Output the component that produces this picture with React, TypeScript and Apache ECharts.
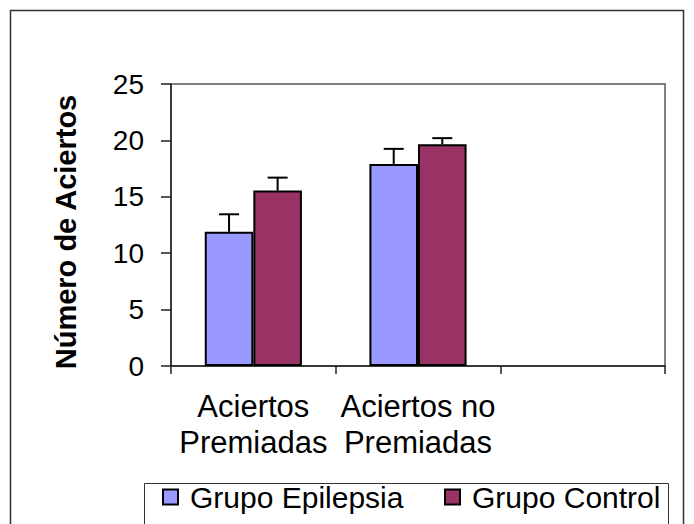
import React, { useEffect, useRef } from "react";
import * as echarts from "echarts";

const categories = ["Aciertos\nPremiadas", "Aciertos no\nPremiadas", ""];
const seriesNames = ["Grupo Epilepsia", "Grupo Control"];
const epilepsia = [11.9, 17.9];
const control = [15.55, 19.65];
const errEpilepsia = [1.55, 1.35];
const errControl = [1.15, 0.55];
const yTicks = { min: 0, max: 25, interval: 5 };
const yAxisTitle = "Número de Aciertos";

const FONT = "'Liberation Sans', Arial, sans-serif";
const BAR_FRACTION = 0.59;

function errorSeries(values: number[], errs: number[], sign: number) {
  return {
    type: "custom",
    z: 5,
    silent: true,
    encode: { x: 0, y: 1 },
    data: values.map((v, i) => [i, v, errs[i]]),
    renderItem: (params: any, api: any) => {
      const idx = api.value(0);
      const v = api.value(1);
      const e = api.value(2);
      const base = api.coord([idx, v]);
      const top = api.coord([idx, v + e]);
      const band = api.size([1, 0])[0];
      const bw = (band * BAR_FRACTION) / 2;
      const x = base[0] + (sign * bw) / 2;
      return {
        type: "group",
        children: [
          {
            type: "line",
            shape: { x1: x, y1: base[1], x2: x, y2: top[1] },
            style: { stroke: "#000", lineWidth: 2 },
          },
          {
            type: "line",
            shape: { x1: x - 10, y1: top[1], x2: x + 10, y2: top[1] },
            style: { stroke: "#000", lineWidth: 2 },
          },
        ],
      };
    },
  };
}

export default function App() {
  const ref = useRef<HTMLDivElement>(null);
  useEffect(() => {
    if (!ref.current) return;
    const chart = echarts.init(ref.current, null, { renderer: "svg" });
    const legendCommon = {
      top: 482,
      padding: 0,
      icon: "rect",
      itemWidth: 15,
      itemHeight: 15,
      textStyle: { fontSize: 30, color: "#000", fontFamily: FONT, padding: [0, 0, 0, 7] },
    };
    chart.setOption({
      animation: false,
      backgroundColor: "#fff",
      textStyle: { fontFamily: FONT },
      graphic: [
        {
          type: "rect",
          silent: true,
          shape: { x: 10.5, y: 10.5, width: 673, height: 540 },
          style: { fill: "none", stroke: "#333", lineWidth: 1.5 },
        },
        {
          type: "rect",
          silent: true,
          shape: { x: 144.5, y: 483.5, width: 524, height: 60 },
          style: { fill: "none", stroke: "#333", lineWidth: 1 },
        },
        {
          type: "text",
          silent: true,
          x: 66,
          y: 232,
          rotation: Math.PI / 2,
          style: {
            text: yAxisTitle,
            align: "center",
            verticalAlign: "middle",
            fontSize: 29,
            fontWeight: "bold",
            fontFamily: FONT,
            fill: "#000",
          },
        },
      ],
      legend: [
        { ...legendCommon, left: 162, data: [seriesNames[0]] },
        { ...legendCommon, left: 444, data: [seriesNames[1]] },
      ],
      grid: {
        left: 171,
        top: 84,
        right: 29,
        bottom: 158,
        show: true,
        borderColor: "#808080",
        borderWidth: 2,
        backgroundColor: "transparent",
      },
      xAxis: {
        type: "category",
        data: categories,
        axisLine: { lineStyle: { color: "#222", width: 1.5 } },
        axisTick: { show: true, length: 8, alignWithLabel: false, lineStyle: { color: "#222", width: 1.5 } },
        axisLabel: {
          interval: 0,
          fontSize: 31,
          lineHeight: 36,
          color: "#000",
          margin: 22,
          fontFamily: FONT,
        },
        splitLine: { show: false },
      },
      yAxis: {
        type: "value",
        min: yTicks.min,
        max: yTicks.max,
        interval: yTicks.interval,
        axisLine: { show: true, lineStyle: { color: "#222", width: 1.5 } },
        axisTick: { show: true, length: 10, lineStyle: { color: "#222", width: 1.5 } },
        axisLabel: { fontSize: 28, color: "#000", margin: 27, fontFamily: FONT },
        splitLine: { show: false },
      },
      series: [
        {
          name: seriesNames[0],
          type: "bar",
          data: epilepsia,
          barGap: "0%",
          barCategoryGap: `${Math.round((1 - BAR_FRACTION) * 100)}%`,
          itemStyle: { color: "#9999FF", borderColor: "#000", borderWidth: 2 },
        },
        {
          name: seriesNames[1],
          type: "bar",
          data: control,
          barGap: "0%",
          barCategoryGap: `${Math.round((1 - BAR_FRACTION) * 100)}%`,
          itemStyle: { color: "#993366", borderColor: "#000", borderWidth: 2 },
        },
        errorSeries(epilepsia, errEpilepsia, -1),
        errorSeries(control, errControl, 1),
      ],
    });
    return () => chart.dispose();
  }, []);
  return (
    <div
      ref={ref}
      style={{ position: "absolute", left: 0, top: 0, width: 694, height: 524 }}
    />
  );
}
